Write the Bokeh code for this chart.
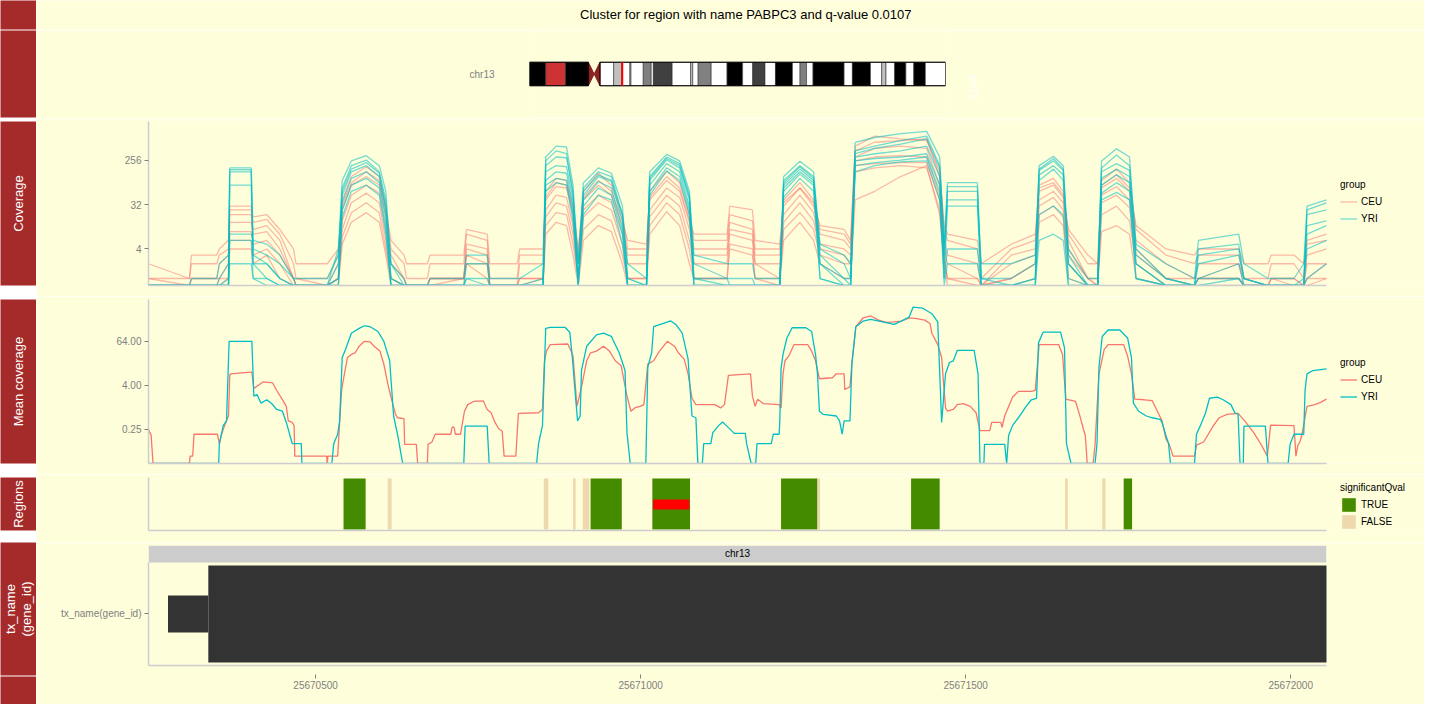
from math import pi

from bokeh.core.properties import value
from bokeh.embed import file_html
from bokeh.layouts import column, row
from bokeh.models import (FixedTicker, Legend, LegendItem, LinearAxis,
                          PrintfTickFormatter, Range1d)
from bokeh.plotting import figure
from bokeh.resources import INLINE

title_text = "Cluster for region with name PABPC3 and q-value 0.0107"
chrom = "chr13"
chrom_len = 115.169878          # Mb
base = 25670000                 # every offset below is bp past this position
view = (25670243, 25672055)
axis_ticks = [25670500, 25671000, 25671500, 25672000]

# chr13 cytobands, Mb
band_start = [0, 4.5, 10.0, 16.3, 17.9, 19.5, 23.3, 25.5, 27.8, 28.1, 31.5, 33.7,
              34.3, 39.5, 44.6, 45.2, 46.7, 50.3, 54.7, 59.0, 61.8, 65.2, 68.1, 72.8,
              74.9, 76.7, 78.5, 87.1, 89.4, 94.4, 97.5, 98.7, 101.1, 104.2, 106.4, 109.6]
band_end = [4.5, 10.0, 16.3, 17.9, 19.5, 23.3, 25.5, 27.8, 28.1, 31.5, 33.7, 34.3,
            39.5, 44.6, 45.2, 46.7, 50.3, 54.7, 59.0, 61.8, 65.2, 68.1, 72.8, 74.9,
            76.7, 78.5, 87.1, 89.4, 94.4, 97.5, 98.7, 101.1, 104.2, 106.4, 109.6, 115.169878]
band_stain = ["gvar", "stalk", "gvar", "acen", "acen", "gneg", "gpos25", "gneg", "gpos25",
              "gneg", "gpos50", "gneg", "gpos75", "gneg", "gpos25", "gneg", "gpos50", "gneg",
              "gpos100", "gneg", "gpos75", "gneg", "gpos100", "gneg", "gpos50", "gneg",
              "gpos100", "gneg", "gpos100", "gneg", "gpos25", "gneg", "gpos100", "gneg",
              "gpos100", "gneg"]

# per-sample coverage on a shared set of offsets
cov_pos = [243, 306, 309, 348, 352, 366, 368, 401, 404, 425,
           445, 466, 470, 518, 535, 541, 555, 578, 598, 608,
           616, 636, 640, 672, 676, 728, 732, 764, 768, 810,
           814, 850, 854, 870, 886, 896, 904, 912, 935, 955,
           972, 980, 1009, 1014, 1040, 1060, 1075, 1082, 1133, 1137,
           1172, 1176, 1214, 1220, 1245, 1266, 1276, 1313, 1323, 1330,
           1360, 1400, 1440, 1460, 1467, 1472, 1518, 1524, 1570, 1607,
           1613, 1635, 1650, 1658, 1688, 1703, 1709, 1732, 1752, 1762,
           1808, 1852, 1858, 1920, 1928, 1965, 1970, 2005, 2020, 2025,
           2055]

ceu_cov = [
    [1, 1, 2, 2, 3, 4, 25, 25, 14, 16,
     8, 2, 1, 1, 3, 40, 120, 190, 120, 30,
     4, 2, 1, 1, 2, 2, 8, 6, 1, 1,
     3, 3, 60, 110, 100, 30, 3, 60, 140, 80,
     20, 4, 4, 60, 155, 90, 20, 6, 6, 20,
     15, 4, 4, 40, 90, 40, 10, 8, 5, 500,
     800, 700, 650, 150, 10, 6, 4, 1, 4, 6,
     80, 110, 60, 8, 2, 2, 100, 170, 90, 10,
     3, 2, 3, 3, 1, 1, 2, 2, 1, 5,
     6],
    [1, 0, 1, 1, 2, 3, 20, 20, 10, 12,
     6, 1, 1, 0, 2, 25, 80, 120, 80, 18,
     3, 1, 0, 0, 1, 1, 5, 4, 0, 0,
     2, 2, 40, 75, 70, 20, 2, 40, 80, 50,
     12, 3, 3, 40, 100, 60, 14, 4, 4, 14,
     10, 3, 3, 30, 70, 30, 8, 6, 4, 300,
     450, 500, 450, 80, 6, 3, 2, 0, 3, 4,
     60, 80, 45, 6, 1, 1, 70, 110, 60, 6,
     2, 1, 2, 2, 0, 0, 1, 1, 0, 3,
     4],
    [0, 0, 1, 1, 1, 2, 14, 14, 8, 9,
     4, 1, 0, 0, 1, 15, 50, 80, 55, 10,
     2, 1, 0, 0, 1, 1, 4, 3, 0, 0,
     1, 1, 25, 50, 45, 12, 2, 25, 50, 35,
     8, 2, 2, 25, 70, 45, 10, 3, 3, 10,
     8, 2, 2, 20, 50, 22, 5, 4, 3, 250,
     300, 320, 300, 50, 4, 2, 1, 0, 2, 3,
     40, 60, 35, 4, 1, 0, 50, 75, 40, 4,
     1, 1, 1, 2, 1, 0, 1, 1, 0, 2,
     2],
    [0, 0, 0, 0, 1, 1, 9, 9, 5, 6,
     3, 1, 0, 0, 1, 10, 35, 55, 35, 6,
     1, 0, 0, 0, 1, 1, 3, 2, 0, 0,
     1, 1, 18, 35, 30, 8, 1, 18, 35, 25,
     5, 1, 1, 18, 50, 30, 6, 2, 2, 8,
     6, 2, 1, 14, 35, 15, 4, 3, 2, 200,
     220, 230, 230, 40, 3, 1, 1, 0, 1, 2,
     30, 45, 25, 3, 1, 0, 35, 50, 28, 3,
     1, 0, 1, 1, 0, 0, 1, 0, 0, 1,
     2],
    [0, 0, 0, 0, 0, 1, 6, 6, 3, 4,
     2, 0, 0, 0, 1, 7, 22, 35, 22, 4,
     1, 0, 0, 0, 0, 1, 2, 2, 0, 0,
     0, 1, 12, 22, 20, 5, 1, 10, 20, 15,
     3, 1, 1, 12, 35, 20, 4, 1, 1, 5,
     4, 1, 1, 10, 22, 10, 3, 2, 2, 150,
     180, 200, 180, 25, 2, 1, 0, 0, 1, 2,
     20, 30, 18, 2, 0, 0, 20, 30, 15, 2,
     0, 0, 1, 1, 0, 0, 0, 0, 0, 1,
     1],
    [0, 0, 0, 0, 0, 0, 4, 4, 2, 3,
     1, 0, 0, 0, 0, 5, 14, 22, 14, 3,
     0, 0, 0, 0, 0, 0, 2, 1, 0, 0,
     0, 0, 8, 14, 12, 3, 0, 6, 12, 9,
     2, 0, 0, 8, 23, 12, 2, 1, 1, 4,
     3, 1, 0, 6, 14, 6, 2, 1, 1, 40,
     60, 120, 200, 20, 2, 0, 0, 0, 0, 1,
     14, 20, 12, 1, 0, 0, 9, 12, 8, 1,
     0, 0, 0, 0, 0, 0, 0, 0, 0, 0,
     1],
    [2, 1, 3, 3, 4, 6, 30, 30, 18, 20,
     10, 4, 2, 2, 4, 30, 90, 150, 100, 25,
     6, 3, 2, 2, 3, 3, 10, 8, 2, 2,
     4, 4, 45, 90, 80, 25, 4, 45, 100, 60,
     15, 6, 5, 45, 120, 70, 16, 8, 8, 30,
     25, 6, 5, 35, 70, 35, 12, 10, 6, 400,
     600, 650, 700, 120, 12, 8, 6, 2, 5, 8,
     70, 90, 50, 10, 3, 2, 80, 130, 70, 12,
     4, 3, 4, 4, 2, 2, 3, 3, 2, 6,
     8],
]

yri_cov = [
    [0, 0, 0, 0, 1, 2, 180, 180, 4, 3,
     2, 1, 0, 0, 4, 100, 250, 320, 200, 60,
     2, 0, 0, 0, 0, 0, 2, 2, 0, 0,
     0, 1, 300, 500, 480, 80, 2, 90, 180, 140,
     30, 1, 0, 150, 340, 250, 60, 2, 1, 1,
     1, 0, 0, 120, 245, 150, 4, 2, 1, 600,
     750, 900, 1000, 300, 4, 90, 90, 1, 1, 2,
     200, 310, 200, 3, 0, 0, 250, 440, 300, 4,
     1, 0, 4, 5, 1, 0, 0, 0, 1, 30,
     40],
    [0, 0, 0, 0, 0, 1, 165, 165, 3, 2,
     1, 0, 0, 0, 2, 70, 200, 260, 150, 40,
     1, 0, 0, 0, 0, 0, 1, 1, 0, 0,
     0, 0, 200, 300, 290, 60, 1, 70, 150, 120,
     20, 1, 0, 120, 300, 220, 50, 1, 1, 0,
     0, 0, 0, 100, 200, 120, 3, 1, 1, 400,
     500, 650, 800, 200, 3, 75, 75, 1, 0, 1,
     160, 250, 160, 2, 0, 0, 150, 220, 160, 3,
     1, 0, 3, 4, 1, 0, 0, 0, 0, 20,
     25],
    [0, 0, 0, 0, 0, 0, 150, 150, 2, 2,
     1, 0, 0, 0, 1, 50, 150, 200, 120, 25,
     1, 0, 0, 0, 0, 0, 1, 0, 0, 0,
     0, 0, 150, 200, 190, 40, 1, 50, 120, 95,
     15, 0, 0, 100, 260, 180, 40, 1, 0, 0,
     0, 0, 0, 80, 170, 100, 2, 1, 0, 300,
     350, 400, 500, 120, 2, 60, 60, 0, 0, 1,
     130, 200, 130, 2, 0, 0, 110, 170, 120, 2,
     0, 0, 2, 3, 1, 0, 0, 0, 0, 12,
     15],
    [0, 0, 0, 0, 0, 0, 80, 80, 2, 1,
     0, 0, 0, 0, 1, 35, 110, 150, 90, 18,
     0, 0, 0, 0, 0, 0, 0, 0, 0, 0,
     0, 0, 100, 150, 140, 30, 0, 40, 95, 70,
     10, 0, 0, 80, 220, 150, 30, 0, 0, 0,
     0, 0, 0, 70, 150, 90, 2, 0, 0, 250,
     280, 300, 350, 80, 1, 30, 30, 0, 0, 0,
     100, 170, 100, 1, 0, 0, 80, 130, 90, 2,
     0, 0, 1, 2, 0, 0, 0, 0, 0, 8,
     12],
    [0, 0, 0, 0, 0, 0, 6, 6, 1, 1,
     0, 0, 0, 0, 0, 25, 80, 110, 70, 12,
     0, 0, 0, 0, 0, 0, 0, 0, 0, 0,
     0, 0, 80, 110, 100, 20, 0, 30, 70, 50,
     8, 0, 0, 60, 180, 120, 25, 0, 0, 0,
     0, 0, 0, 60, 135, 80, 1, 0, 0, 200,
     230, 260, 300, 60, 1, 4, 4, 0, 0, 0,
     20, 30, 20, 0, 0, 0, 55, 90, 60, 1,
     0, 0, 1, 1, 0, 0, 0, 0, 0, 4,
     6],
    [0, 0, 0, 0, 0, 0, 2, 2, 1, 0,
     0, 0, 0, 0, 0, 18, 60, 80, 50, 8,
     0, 0, 0, 0, 0, 0, 0, 0, 0, 0,
     0, 0, 60, 90, 80, 15, 0, 20, 50, 40,
     5, 0, 0, 50, 155, 100, 20, 0, 0, 0,
     0, 0, 0, 45, 110, 60, 1, 0, 0, 150,
     200, 240, 250, 40, 0, 2, 2, 0, 0, 0,
     6, 8, 6, 0, 0, 0, 40, 57, 40, 1,
     0, 0, 0, 1, 0, 0, 0, 0, 0, 1,
     2],
    [0, 0, 1, 1, 2, 3, 8, 8, 6, 5,
     3, 1, 1, 1, 3, 60, 170, 230, 140, 30,
     2, 1, 0, 0, 1, 1, 3, 3, 1, 1,
     1, 2, 250, 400, 350, 50, 2, 60, 130, 100,
     20, 2, 1, 110, 280, 200, 45, 3, 2, 2,
     2, 1, 1, 90, 190, 110, 5, 3, 2, 350,
     450, 550, 700, 180, 5, 40, 40, 2, 2, 3,
     170, 280, 170, 4, 1, 1, 180, 330, 200, 5,
     2, 1, 6, 8, 2, 1, 1, 1, 2, 25,
     35],
]

# group mean coverage: (offset, mean)
ceu_mean = [
    (243, 0.24), (247, 0.17), (250, 0), (306, 0), (307, 0.045), (311, 0.045), (313, 0.18),
    (349, 0.18), (352, 0.10), (355, 0.17), (360, 0.31), (366, 0.57), (368, 7.4), (369, 8.2),
    (400, 9.1), (402, 9.1), (405, 3.25), (419, 4.9), (434, 4.6), (440, 2.9), (449, 1.6),
    (455, 1.05), (458, 0.42), (464, 0.38), (467, 0.31), (468, 0.045), (517, 0.045), (518, 0),
    (519, 0.045), (534, 0.045), (537, 0.38), (540, 2.9), (543, 6.0), (549, 22.9), (555, 28),
    (561, 31), (567, 47), (575, 64), (584, 62), (590, 47), (599, 34.5), (605, 15.2), (611, 4.4),
    (617, 1.6), (623, 0.63), (626, 0.51), (636, 0.48), (637, 0.095), (655, 0.095), (657, 0),
    (672, 0), (673, 0.095), (679, 0.11), (684, 0.18), (708, 0.18), (710, 0.28), (713, 0.28),
    (715, 0.18), (723, 0.18), (729, 0.77), (734, 1.17), (743, 1.43), (758, 1.48), (764, 0.86),
    (770, 0.70), (776, 0.38), (782, 0.25), (787, 0.22), (790, 0.045), (808, 0.045), (812, 0.67),
    (843, 0.70), (849, 0.86), (852, 16.8), (855, 34.5), (861, 52), (888, 54), (893, 34.5),
    (896, 25.4), (902, 1.05), (908, 2.9), (917, 18.7), (923, 31), (932, 34.5), (943, 47),
    (952, 34.5), (961, 18.7), (970, 13.7), (979, 2.0), (985, 0.77), (991, 0.95), (999, 1.05),
    (1005, 1.17), (1011, 15.2), (1020, 18.7), (1029, 34.5), (1041, 64), (1052, 47), (1058, 31),
    (1067, 20.7), (1073, 8.2), (1079, 1.75), (1085, 1.17), (1114, 1.17), (1123, 0.95),
    (1129, 1.17), (1135, 7.4), (1169, 8.2), (1172, 2.0), (1176, 1.05), (1180, 1.65),
    (1189, 1.24), (1213, 1.17), (1216, 0.95), (1219, 8.2), (1222, 18.7), (1228, 25.4),
    (1236, 52), (1257, 52), (1263, 34.5), (1269, 18.7), (1275, 6.0), (1295, 6.4), (1301, 8.2),
    (1313, 8.2), (1314, 3.05), (1322, 3.6), (1325, 16.8), (1331, 161), (1342, 280), (1354, 318),
    (1366, 244), (1378, 211), (1390, 220), (1401, 229), (1413, 280), (1425, 269), (1437, 244),
    (1445, 198), (1448, 107), (1457, 52), (1463, 23), (1466, 4.4), (1469, 0.95), (1472, 0.77),
    (1481, 0.86), (1487, 1.17), (1496, 1.24), (1507, 1.05), (1516, 0.70), (1522, 0.225),
    (1537, 0.225), (1540, 0.38), (1554, 0.38), (1556, 0.28), (1560, 0.57), (1572, 1.87),
    (1581, 2.7), (1601, 2.7), (1607, 2.9), (1613, 52), (1643, 52), (1649, 28), (1654, 1.65),
    (1669, 1.43), (1675, 0.63), (1681, 0.25), (1684, 0.166), (1687, 0), (1696, 0), (1699, 0.095),
    (1705, 8.2), (1713, 38), (1719, 52), (1743, 52), (1749, 25.4), (1755, 8.2), (1760, 1.65),
    (1775, 1.59), (1787, 1.5), (1796, 0.70), (1802, 0.42), (1808, 0.135), (1813, 0.095),
    (1819, 0.045), (1852, 0.045), (1855, 0.09), (1866, 0.11), (1872, 0.166), (1881, 0.31),
    (1890, 0.51), (1902, 0.63), (1919, 0.67), (1931, 0.38), (1943, 0.2), (1949, 0.135),
    (1955, 0.09), (1964, 0.045), (1969, 0.32), (2005, 0.31), (2008, 0.045), (2011, 0.09),
    (2014, 0.11), (2017, 0.166), (2025, 1.05), (2037, 1.17), (2046, 1.35), (2055, 1.65),
]
yri_mean = [
    (243, 0), (351, 0), (352, 0.10), (358, 0.31), (363, 0.42), (367, 64), (402, 64), (405, 2.0),
    (410, 2.2), (416, 1.29), (425, 1.59), (434, 1.17), (440, 0.86), (449, 0.77), (455, 0.38),
    (464, 0.10), (478, 0.10), (479, 0), (525, 0), (528, 0.10), (534, 0.18), (537, 0.42),
    (541, 22.9), (546, 38), (555, 107), (567, 145), (575, 171), (584, 161), (596, 119),
    (605, 64), (614, 18.7), (620, 0.57), (626, 0.18), (634, 0), (728, 0), (730, 0.30),
    (764, 0.30), (767, 0), (840, 0), (843, 0.10), (849, 0.31), (854, 145), (861, 154),
    (884, 154), (891, 114), (895, 22.9), (899, 2.9), (903, 0.42), (907, 0.57), (909, 10.1),
    (917, 47), (932, 96), (943, 107), (955, 87), (967, 31), (976, 10.1), (979, 0.2), (984, 0),
    (1008, 0), (1011, 12.4), (1017, 31), (1020, 161), (1035, 198), (1046, 234), (1055, 179),
    (1064, 107), (1073, 20.7), (1079, 0.57), (1085, 0.51), (1088, 0), (1095, 0), (1097, 0.10),
    (1108, 0.10), (1111, 0.20), (1120, 0.31), (1126, 0.39), (1132, 0.31), (1144, 0.19),
    (1161, 0.19), (1163, 0.10), (1170, 0), (1177, 0), (1179, 0.10), (1201, 0.10), (1204, 0.18),
    (1213, 0.18), (1214, 0.38), (1216, 11.2), (1219, 28), (1225, 79), (1233, 151), (1254, 151),
    (1263, 119), (1269, 28), (1272, 8.2), (1275, 0.77), (1281, 0.63), (1301, 0.57),
    (1306, 0.42), (1310, 0.18), (1313, 0.42), (1322, 0.42), (1325, 15.2), (1331, 161),
    (1342, 229), (1354, 258), (1372, 220), (1390, 186), (1401, 229), (1413, 298), (1419, 553),
    (1434, 519), (1448, 367), (1457, 220), (1463, 0.38), (1469, 8.2), (1475, 16.8),
    (1481, 18.7), (1487, 36), (1513, 36), (1519, 8.2), (1522, 0), (1528, 0), (1529, 0.095),
    (1560, 0.095), (1563, 0), (1566, 0.166), (1572, 0.31), (1581, 0.51), (1593, 1.05),
    (1601, 1.59), (1609, 1.75), (1612, 58), (1619, 114), (1646, 114), (1652, 42.5),
    (1655, 0.10), (1662, 0), (1699, 0), (1702, 0.10), (1705, 12.4), (1710, 87), (1719, 131),
    (1737, 131), (1749, 79), (1755, 22.9), (1758, 1.29), (1766, 0.77), (1778, 0.57),
    (1787, 0.51), (1799, 0.46), (1802, 0.38), (1808, 0.166), (1812, 0.10), (1815, 0),
    (1852, 0), (1855, 0.18), (1861, 0.31), (1869, 0.70), (1875, 1.75), (1887, 1.87),
    (1896, 1.59), (1908, 1.17), (1914, 0.70), (1919, 0.63), (1922, 0), (1927, 0), (1928, 0.30),
    (1961, 0.30), (1965, 0), (1996, 0), (1999, 0.095), (2005, 0.18), (2020, 0.18), (2022, 2.9),
    (2025, 8.2), (2034, 10.1), (2055, 11.2),
]

# candidate regions
reg_start = [25670543, 25670611, 25670851, 25670896, 25670911, 25670923, 25671018,
             25671216, 25671272, 25671416, 25671653, 25671710, 25671743]
reg_end = [25670577, 25670617, 25670858, 25670900, 25670921, 25670971, 25671076,
           25671272, 25671276, 25671460, 25671657, 25671715, 25671756]
reg_sig = [True, False, False, False, False, True, True, True, False, True, False, False, True]
cluster_start, cluster_end = 25671019, 25671075

# transcript model
utr_start, utr_end = 25670273, 25670335
cds_start, cds_end = 25670335, 25672160
tx_label = "tx_name(gene_id)"

BG = "#FFFEDB"
STRIP = "#A52A2A"
CEU_C = "#F8766D"
YRI_C = "#00BFC4"
SIG_C = "#458B00"
NONSIG_C = "#EED8AE"
AXIS_C = "#CDCDCD"
TICK_C = "#808080"
FONT = "Liberation Sans"

W_STRIP, W_TRACK = 36, 1388
LEFT, RIGHT = 112, 98
FRAME_W = W_TRACK - LEFT - RIGHT

stain_fill = {"gneg": "#FFFFFF", "gpos25": "#C0C0C0", "gpos50": "#808080",
              "gpos75": "#404040", "gpos100": "#000000", "gvar": "#000000",
              "stalk": "#CD3333", "acen": "#8B2323"}

# the data tracks keep their legend inside a wider frame, at the same bp scale
x_view = Range1d(*view)
px_per_bp = FRAME_W / (view[1] - view[0])
x_wide = Range1d(view[0], view[0] + (FRAME_W + RIGHT) / px_per_bp)


def clamp(vals, floor):
    return [v if v > 0 else floor for v in vals]


def strip(h, label=None, gap=1):
    s = figure(width=W_STRIP, height=h, x_range=(0, 1), y_range=(0, 1),
               x_axis_location=None, y_axis_location=None, toolbar_location=None,
               min_border_left=0, min_border_right=0, min_border_top=0,
               min_border_bottom=gap, background_fill_color=STRIP,
               border_fill_color="white", outline_line_color=None, output_backend="svg")
    s.grid.visible = False
    if label:
        s.text(x=[0.5], y=[0.5], text=[label], angle=pi / 2, text_align="center",
               text_baseline="middle", text_color="white", text_font=value(FONT),
               text_font_size="13px", text_line_height=1.1)
    return s


def style_axis(ax, ticks=()):
    ax.ticker = FixedTicker(ticks=list(ticks), minor_ticks=[])
    ax.axis_line_color = AXIS_C
    ax.axis_line_width = 1.5
    ax.major_tick_line_color = TICK_C
    ax.major_tick_in = 0
    ax.major_tick_out = 4
    ax.minor_tick_line_color = None
    ax.major_label_text_color = TICK_C
    ax.major_label_text_font = FONT
    ax.major_label_text_font_size = "10px"
    ax.major_label_standoff = 3


def track(h, y_range, y_axis_type="linear", top=3, bottom=11):
    p = figure(width=W_TRACK, height=h, x_range=x_wide, y_range=y_range,
               y_axis_type=y_axis_type, toolbar_location=None,
               min_border_left=LEFT, min_border_right=0,
               min_border_top=top, min_border_bottom=bottom,
               background_fill_color=BG, border_fill_color=BG,
               outline_line_color=None, output_backend="svg")
    p.grid.visible = False
    style_axis(p.xaxis[0])
    p.xaxis[0].bounds = view
    style_axis(p.yaxis[0])
    return p


def add_legend(p, items, title, vy):
    leg = Legend(items=items, title=title, location=(FRAME_W + 14, vy),
                 glyph_width=17, glyph_height=17, label_height=17, spacing=0,
                 padding=0, margin=0, label_standoff=4,
                 label_text_font=FONT, label_text_font_size="10px",
                 label_text_color="black",
                 title_text_font=FONT, title_text_font_size="10px",
                 title_text_font_style="normal", title_text_color="black",
                 title_standoff=3,
                 background_fill_alpha=0, border_line_color=None)
    p.add_layout(leg)


def group_legend(p, r_ceu, r_yri):
    key = p.rect(x=[], y=[], width=1, height=1, fill_color="#EFEFEF", line_color="white")
    add_legend(p, [LegendItem(label="CEU", renderers=[key, r_ceu]),
                   LegendItem(label="YRI", renderers=[key, r_yri])], "group", 58)


# title row
p_title = figure(width=W_TRACK, height=30, x_range=(0, 1), y_range=(0, 1),
                 x_axis_location=None, y_axis_location=None, toolbar_location=None,
                 min_border=0, background_fill_color=BG, border_fill_color=BG,
                 outline_line_color=None, output_backend="svg")
p_title.grid.visible = False
p_title.text(x=[0.511], y=[0.53], text=[title_text], text_align="center",
             text_baseline="middle", text_color="black", text_font=value(FONT),
             text_font_size="13px")

# ideogram
hb = 0.135
p_ideo = figure(width=W_TRACK, height=88, x_range=Range1d(0, chrom_len), y_range=Range1d(0, 1),
                x_axis_location=None, toolbar_location=None,
                min_border_left=493, min_border_right=W_TRACK - 493 - 416,
                min_border_top=0, min_border_bottom=0,
                background_fill_color=BG, border_fill_color=BG,
                outline_line_color=None, output_backend="svg")
p_ideo.grid.visible = False
solid = [i for i, s in enumerate(band_stain) if s != "acen"]
acen = [i for i, s in enumerate(band_stain) if s == "acen"]
p_ideo.quad(left=[band_start[i] for i in solid], right=[band_end[i] for i in solid],
            bottom=0.5 - hb, top=0.5 + hb,
            fill_color=[stain_fill[band_stain[i]] for i in solid],
            line_color="#333333", line_width=0.6)
a0, a1 = acen
p_ideo.patches(xs=[[band_start[a0], band_end[a0], band_start[a0]],
                   [band_end[a1], band_start[a1], band_end[a1]]],
               ys=[[0.5 + hb, 0.5, 0.5 - hb], [0.5 + hb, 0.5, 0.5 - hb]],
               fill_color=stain_fill["acen"], line_color=stain_fill["acen"])
p_ideo.quad(left=[0, band_end[a1]], right=[band_start[a0], chrom_len],
            bottom=0.5 - hb, top=0.5 + hb, fill_color=None, line_color="black", line_width=1)
p_ideo.rect(x=[(view[0] + view[1]) / 2 / 1e6], y=[0.5], width=2, width_units="screen",
            height=2 * hb, fill_color="red", line_color=None)
ya = p_ideo.yaxis[0]
style_axis(ya, [0.5])
ya.major_label_overrides = {0.5: chrom}
ya.axis_line_color = None
ya.major_tick_line_color = None
ya.major_label_standoff = 31
ra = LinearAxis(ticker=FixedTicker(ticks=[0.5], minor_ticks=[]),
                major_label_overrides={0.5: chrom}, axis_line_color=None,
                major_tick_line_color=None, minor_tick_line_color=None,
                major_label_text_color="white", major_label_text_font=FONT,
                major_label_text_font_size="10px", major_label_standoff=22,
                major_label_orientation=-pi / 2)
p_ideo.add_layout(ra, "right")

# per-sample coverage
cov_floor = 0.72
p_cov = track(178, Range1d(cov_floor, 1590), "log")
style_axis(p_cov.yaxis[0], [4, 32, 256])
p_cov.yaxis[0].formatter = PrintfTickFormatter(format="%d")
cov_x = [base + o for o in cov_pos]
r_ceu = p_cov.multi_line(xs=[cov_x] * len(ceu_cov), ys=[clamp(r, cov_floor) for r in ceu_cov],
                         line_color=CEU_C, line_alpha=0.5, line_width=1.3)
r_yri = p_cov.multi_line(xs=[cov_x] * len(yri_cov), ys=[clamp(r, cov_floor) for r in yri_cov],
                         line_color=YRI_C, line_alpha=0.55, line_width=1.3)
group_legend(p_cov, r_ceu, r_yri)

# mean coverage
mean_floor = 0.0283
p_mean = track(178, Range1d(mean_floor, 900), "log")
style_axis(p_mean.yaxis[0], [0.25, 4, 64])
p_mean.yaxis[0].formatter = PrintfTickFormatter(format="%.2f")
m_ceu = p_mean.line([base + o for o, _ in ceu_mean], clamp([v for _, v in ceu_mean], mean_floor),
                    line_color=CEU_C, line_width=1.3)
m_yri = p_mean.line([base + o for o, _ in yri_mean], clamp([v for _, v in yri_mean], mean_floor),
                    line_color=YRI_C, line_width=1.3)
group_legend(p_mean, m_ceu, m_yri)

# regions
p_reg = track(68, Range1d(-0.02, 1.02), bottom=12)
reg_items = []
for flag, colour in ((True, SIG_C), (False, NONSIG_C)):
    r = p_reg.quad(left=[s for s, g in zip(reg_start, reg_sig) if g == flag],
                   right=[e for e, g in zip(reg_end, reg_sig) if g == flag],
                   bottom=0, top=1, fill_color=colour, line_color=None)
    reg_items.append(LegendItem(label=str(flag).upper(), renderers=[r]))
p_reg.quad(left=[cluster_start], right=[cluster_end], bottom=0.39, top=0.59,
           fill_color="red", line_color=None)
add_legend(p_reg, reg_items, "significantQval", 0)

# transcript track with the genomic axis
p_tx = figure(width=W_TRACK, height=162, x_range=x_view, y_range=Range1d(0.5, 1.665),
              toolbar_location=None, min_border_left=LEFT, min_border_right=RIGHT,
              min_border_top=3, min_border_bottom=39,
              background_fill_color=BG, border_fill_color=BG,
              outline_line_color=None, output_backend="svg")
p_tx.grid.visible = False
p_tx.quad(left=[view[0]], right=[view[1]], bottom=1.5, top=1.665,
          fill_color="#CCCCCC", line_color=None)
p_tx.text(x=[(view[0] + view[1]) / 2], y=[1.5825], text=[chrom], text_align="center",
          text_baseline="middle", text_color="black", text_font=value(FONT),
          text_font_size="10px")
p_tx.quad(left=[utr_start], right=[utr_end], bottom=0.82, top=1.18,
          fill_color="#333333", line_color=None)
p_tx.quad(left=[cds_start], right=[cds_end], bottom=0.53, top=1.47,
          fill_color="#333333", line_color=None)
ty = p_tx.yaxis[0]
style_axis(ty, [1])
ty.major_label_overrides = {1: tx_label}
ty.bounds = (0.5, 1.5)
tx_axis = p_tx.xaxis[0]
style_axis(tx_axis, axis_ticks)
tx_axis.formatter = PrintfTickFormatter(format="%d")
tx_axis.major_tick_in = -9
tx_axis.major_tick_out = 13
tx_axis.major_label_standoff = 2

page = column(
    row(strip(30), p_title),
    row(strip(88), p_ideo),
    row(strip(178, "Coverage"), p_cov),
    row(strip(178, "Mean coverage"), p_mean),
    row(strip(68, "Regions"), p_reg),
    row(column(strip(134, "tx_name\n(gene_id)"), strip(28, gap=0)), p_tx),
)

open("out.html", "w").write(file_html(page, INLINE))
